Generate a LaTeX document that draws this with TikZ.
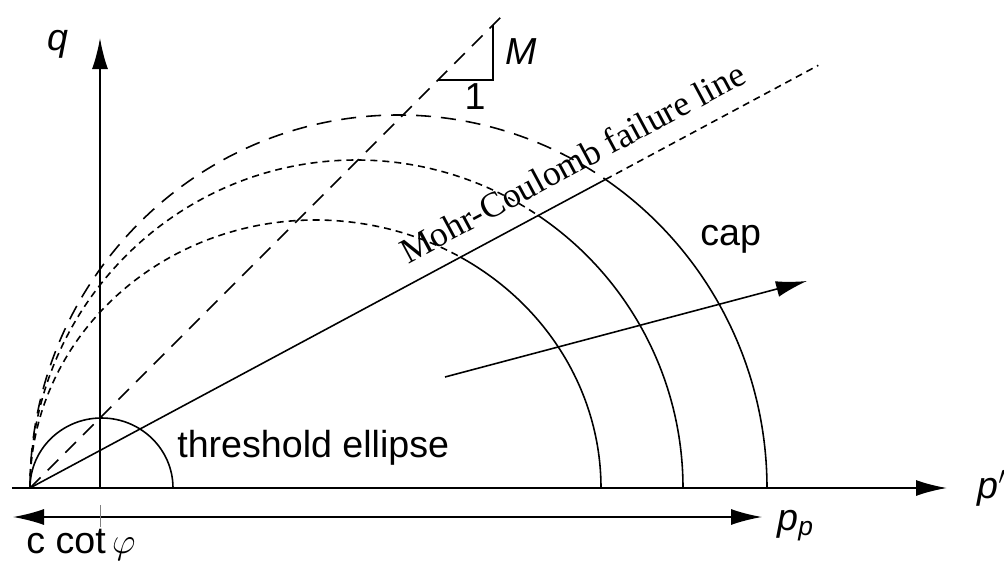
\documentclass[tikz,border=0pt]{standalone}
\usepackage{fontspec}
\setmainfont{Liberation Sans}
\newfontfamily\mcserif{Liberation Serif}
\usepackage{tikz}
\usetikzlibrary{arrows.meta}

\begin{document}
\begin{tikzpicture}[>={Latex[length=0.62cm,width=0.32cm]},
  axisline/.style={line width=1.1pt},
  capline/.style={line width=0.9pt},
  longdash/.style={capline,dash pattern=on 0.3cm off 0.2cm},
  shortdash/.style={capline,dash pattern=on 0.14cm off 0.1cm},
  lbl/.style={font=\fontsize{21.4}{25}\selectfont,inner sep=0pt}]
  \useasboundingbox (-0.6,-1.6) rectangle (19.48,9.76);
  \coordinate (O) at (0,0);
  \coordinate (qaxis) at (1.4,0);
  % axes
  \draw[->,axisline] (-0.36,0) -- (18.34,0);
  \draw[->,axisline] (qaxis) -- (1.4,9.0);
  \node[lbl,anchor=base west] (pdash) at (18.94,-0.2) {\itshape p$'$};
  \node[lbl] (q) at (0.56,8.88) {\itshape q};
  % Mohr-Coulomb line and slope M
  \draw[capline] (O) -- (28.2:13.06) coordinate (mcend);
  \draw[shortdash] (mcend) -- (28.2:17.89);
  \node[font=\mcserif\fontsize{20.2}{24}\selectfont,inner sep=0pt,rotate=28.2,anchor=base] (mc) at (10.96,6.30) {Mohr-Coulomb failure line};
  \draw[longdash] (O) -- (45:13.43);
  \coordinate (T1) at (8.16,8.16);
  \coordinate (T2) at (9.26,8.16);
  \coordinate (T3) at (9.26,9.26);
  \draw[capline] (T1) -- (T2) -- (T3);
  \node[lbl] (one) at (8.9,7.82) {1};
  \node[lbl] (M) at (9.82,8.72) {\itshape M};
  % threshold ellipse and caps
  \draw[capline] (O) arc[start angle=180,end angle=0,x radius=1.43,y radius=1.4];
  \node[lbl,anchor=base west] (thr) at (2.94,0.62) {threshold ellipse};
  \draw[capline] (11.42,0) arc[start angle=0,end angle=59.5,x radius=5.71,y radius=5.36];
  \draw[shortdash] (O) arc[start angle=180,end angle=59.5,x radius=5.71,y radius=5.36];
  \draw[capline] (13.06,0) arc[start angle=0,end angle=56.2,x radius=6.53,y radius=6.56];
  \draw[shortdash] (O) arc[start angle=180,end angle=56.2,x radius=6.53,y radius=6.56];
  \draw[capline] (14.74,0) arc[start angle=0,end angle=55.8,x radius=7.37,y radius=7.46];
  \draw[longdash] (O) arc[start angle=180,end angle=55.8,x radius=7.37,y radius=7.46];
  \node[lbl,anchor=base west] (cap) at (13.4,4.86) {cap};
  \coordinate (hs) at (8.3,2.22);
  \coordinate (he) at (15.54,4.14);
  \draw[->,capline] (hs) -- (he);
  % p_p and c cot phi
  \coordinate (pl) at (-0.34,-0.58);
  \coordinate (pr) at (14.64,-0.58);
  \draw[<->,capline] (pl) -- (pr);
  \node[lbl,anchor=base west] (pp) at (14.94,-0.84) {\itshape p\textsubscript{p}};
  \draw[gray,thin] (1.4,-0.34) -- (1.4,-0.78);
  \node[lbl] (ccot) at (1.02,-1.14) {c cot\,$\varphi$};
\end{tikzpicture}
\end{document}
